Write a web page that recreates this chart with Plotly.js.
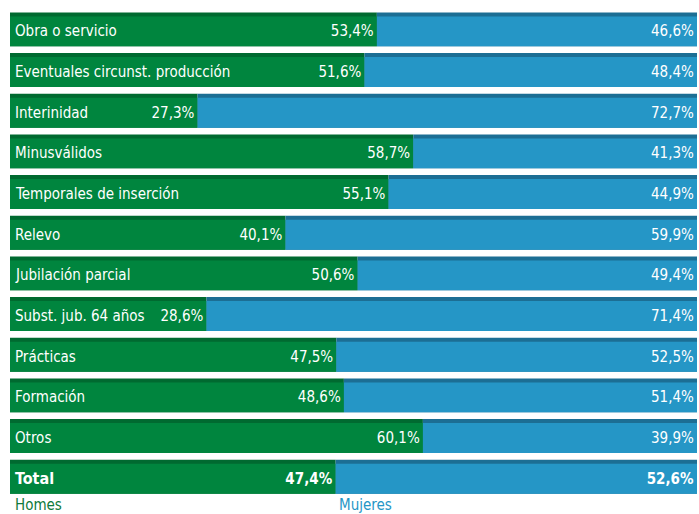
<!DOCTYPE html>
<html>
<head>
<meta charset="utf-8">
<script src="https://cdn.plot.ly/plotly-3.0.1.min.js"></script>
<style>
html,body{margin:0;padding:0;background:#fff;}
#chart{width:699px;height:514px;}
#chart svg text{font-stretch:condensed !important;}
</style>
</head>
<body>
<div id="chart"></div>
<script>
const categories = ["Obra o servicio", "Eventuales circunst. producción", "Interinidad", "Minusválidos",
  "Temporales de inserción", "Relevo", "Jubilación parcial", "Subst. jub. 64 años",
  "Prácticas", "Formación", "Otros", "Total"];
const homes   = [53.4, 51.6, 27.3, 58.7, 55.1, 40.1, 50.6, 28.6, 47.5, 48.6, 60.1, 47.4];
const mujeres = [46.6, 48.4, 72.7, 41.3, 44.9, 59.9, 49.4, 71.4, 52.5, 51.4, 39.9, 52.6];
const seriesNames = ["Homes", "Mujeres"];

const FONT = "DejaVu Sans Condensed, DejaVu Sans, sans-serif";
const GREEN = "#00853e", GREEN_D = "#006a30";
const BLUE = "#2596c6", BLUE_D = "#1c6e94";

const idx = categories.map((c, i) => i);
const isTotal = categories.map(c => c === "Total");
const fmt = (v, i) => {
  const s = v.toFixed(1).replace(".", ",") + "%";
  return isTotal[i] ? "<b>" + s + "</b>" : s;
};

const FULL_OFF = -0.417, FULL_W = 0.835, STRIP = 0.1;

const traces = [
  {type: "bar", orientation: "h", y: idx, x: homes, base: 0,
   offset: FULL_OFF, width: FULL_W, marker: {color: GREEN_D}, hoverinfo: "skip", showlegend: false},
  {type: "bar", orientation: "h", y: idx, x: mujeres, base: homes,
   offset: FULL_OFF, width: FULL_W, marker: {color: BLUE_D}, hoverinfo: "skip", showlegend: false},
  {type: "bar", orientation: "h", name: seriesNames[0], y: idx, x: homes, base: 0,
   offset: FULL_OFF + STRIP, width: FULL_W - STRIP, marker: {color: GREEN},
   text: homes.map(fmt), textposition: "inside", insidetextanchor: "end",
   textfont: {family: FONT, size: 15, color: "#ffffff"}, constraintext: "none",
   hoverinfo: "skip", showlegend: false},
  {type: "bar", orientation: "h", name: seriesNames[1], y: idx, x: mujeres, base: homes,
   offset: FULL_OFF + STRIP, width: FULL_W - STRIP, marker: {color: BLUE},
   text: mujeres.map(fmt), textposition: "inside", insidetextanchor: "end",
   textfont: {family: FONT, size: 15, color: "#ffffff"}, constraintext: "none",
   hoverinfo: "skip", showlegend: false}
];

const annotations = categories.map((c, i) => ({
  x: 0, y: i + STRIP / 2, xref: "x", yref: "y", xanchor: "left", yanchor: "middle",
  xshift: 3, showarrow: false,
  text: isTotal[i] ? "<b>" + c + "</b>" : c,
  font: {family: FONT, size: isTotal[i] ? 16 : 15, color: "#ffffff"}
}));
annotations.push({x: 0, y: 0, xref: "paper", yref: "paper", xanchor: "left", yanchor: "top",
  xshift: 3, yshift: 3, showarrow: false, text: seriesNames[0],
  font: {family: FONT, size: 15, color: "#0f7a3a"}});
annotations.push({x: homes[homes.length - 1], y: 0, xref: "x", yref: "paper", xanchor: "left", yanchor: "top",
  xshift: 1, yshift: 3, showarrow: false, text: seriesNames[1],
  font: {family: FONT, size: 15, color: BLUE}});

const layout = {
  width: 699, height: 514,
  margin: {l: 10, r: 2, t: 9, b: 17, pad: 0},
  paper_bgcolor: "#ffffff", plot_bgcolor: "#ffffff",
  barmode: "overlay",
  showlegend: false,
  xaxis: {range: [0, 100], visible: false, fixedrange: true},
  yaxis: {range: [11.5, -0.5], visible: false, fixedrange: true},
  annotations: annotations,
  font: {family: FONT}
};

Plotly.newPlot("chart", traces, layout, {displayModeBar: false, staticPlot: true});
</script>
</body>
</html>
